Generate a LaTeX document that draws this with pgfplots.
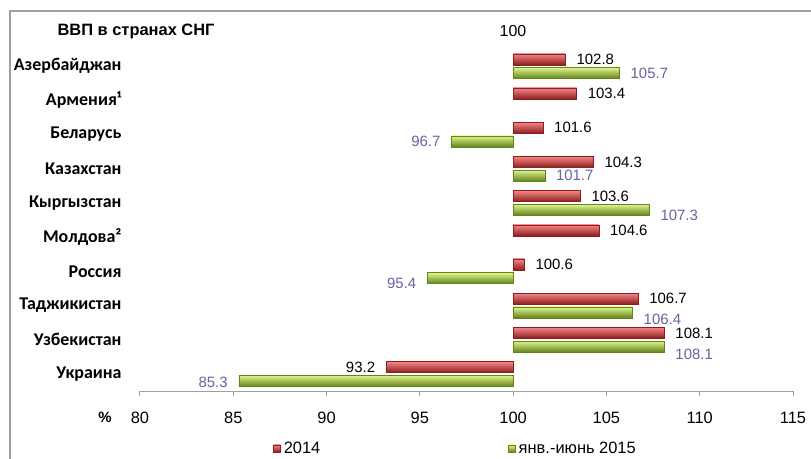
\documentclass[border=0pt]{standalone}
\usepackage{fontspec}
\setmainfont{Liberation Sans}
\newfontfamily\carlito{Carlito}
\usepackage{pgfplots}
\pgfplotsset{compat=1.18}
\definecolor{redmid}{RGB}{215,62,62}
\definecolor{redtop}{RGB}{245,135,135}
\definecolor{redbot}{RGB}{140,30,30}
\definecolor{grmid}{RGB}{168,204,58}
\definecolor{grtop}{RGB}{225,247,140}
\definecolor{grbot}{RGB}{100,130,30}
\definecolor{lblblue}{RGB}{100,100,160}
\definecolor{axgray}{RGB}{160,160,160}

% one bar per plot so that each bar gets its own shading
% #1 = category position (9 = Азербайджан ... 0 = Украина), #2 = value, #3 = label offset, #4 = label anchor
\newcommand\rbar[4]{\addplot[bar shift=0.2, draw=redbot, top color=redtop, middle color=redmid, bottom color=redbot,
  nodes near coords style={text=black, anchor=#4, yshift=-#3bp}, forget plot] coordinates {(#2,#1) [#2]};}
\newcommand\gbar[4]{\addplot[bar shift=-0.2, draw=grbot, top color=grtop, middle color=grmid, bottom color=grbot,
  nodes near coords style={text=lblblue, anchor=#4, yshift=-#3bp}, forget plot] coordinates {(#2,#1) [#2]};}

\begin{document}
\begin{tikzpicture}
\path[use as bounding box] (-140bp,-68bp) rectangle (671bp,391bp);
\draw[axgray, line width=1.2bp] (-130bp,-68bp) -- (-130bp,380bp) -- (671bp,380bp);
\begin{axis}[
  at={(0,0)}, anchor=south west,
  scale only axis,
  width=653bp, height=342bp,
  xmin=-20, xmax=15,
  ymin=-0.5, ymax=9.5,
  x filter/.expression={x-100},
  xtick={-20,-15,-10,-5,0,5,10,15},
  xticklabels={80,85,90,95,100,105,110,115},
  ytick={0,1,2,3,4,5,6,7,8,9},
  yticklabels={Украина,Узбекистан,Таджикистан,Россия,Молдова²,Кыргызстан,Казахстан,Беларусь,Армения¹,Азербайджан},
  axis lines*=left,
  y axis line style={draw=none},
  x axis line style={axgray, line width=1bp},
  ytick style={draw=none},
  xtick style={axgray, line width=1bp},
  tick align=outside,
  major tick length=5bp,
  xticklabel style={font=\fontsize{16.5}{18}\selectfont, anchor=base, yshift=-27bp},
  yticklabel style={font=\carlito\bfseries\fontsize{18}{20}\selectfont, anchor=east, xshift=-10bp},
  /pgf/number format/assume math mode=true,
  xbar,
  bar width=0.32,
  point meta=explicit symbolic,
  nodes near coords={\pgfplotspointmeta},
  nodes near coords style={font=\fontsize{15}{17}\selectfont, inner xsep=11bp},
  legend columns=2,
  legend style={draw=none, fill=none, at={(rel axis cs:0.204,-0.168)}, anchor=west,
     font=\fontsize{16.5}{18}\selectfont, inner sep=0pt,
     /tikz/every even column/.append style={column sep=186bp},
     /tikz/every odd column/.append style={column sep=1bp}},
  legend image code/.code={\draw[#1] (0bp,-3.5bp) rectangle (7bp,3.5bp);},
  clip=false,
]
\addlegendimage{draw=redbot, top color=redtop, middle color=redmid, bottom color=redbot}
\addlegendentry{2014}
\addlegendimage{draw=grbot, top color=grtop, middle color=grmid, bottom color=grbot}
\addlegendentry{янв.-июнь 2015}
% 2014
\rbar{9}{102.8}{0}{west}
\rbar{8}{103.4}{0}{west}
\rbar{7}{101.6}{0}{west}
\rbar{6}{104.3}{0}{west}
\rbar{5}{103.6}{0}{west}
\rbar{4}{104.6}{0}{west}
\rbar{3}{100.6}{0}{west}
\rbar{2}{106.7}{0}{west}
\rbar{1}{108.1}{0}{west}
\rbar{0}{93.2}{0}{east}
% янв.-июнь 2015
\gbar{9}{105.7}{0}{west}
\gbar{7}{96.7}{0}{east}
\gbar{6}{101.7}{0}{west}
\gbar{5}{107.3}{6}{west}
\gbar{3}{95.4}{5}{east}
\gbar{2}{106.4}{7}{west}
\gbar{1}{108.1}{8}{west}
\gbar{0}{85.3}{2}{east}
\draw[black, line width=1bp] (axis cs:100,-0.5) -- (axis cs:100,9.5);
\end{axis}
\node[font=\bfseries\fontsize{16.5}{19}\selectfont, anchor=west] at (-86bp,360bp) {ВВП в странах СНГ};
\node[font=\fontsize{16}{18}\selectfont] at (373bp,360bp) {100};
\node[font=\bfseries\fontsize{15}{17}\selectfont] at (-35bp,-26bp) {\%};
\end{tikzpicture}
\end{document}
